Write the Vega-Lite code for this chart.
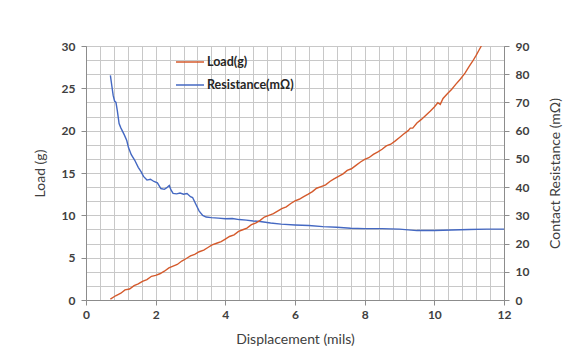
{
  "$schema": "https://vega.github.io/schema/vega-lite/v6.json",
  "width": 418,
  "height": 254,
  "autosize": {"type": "none"},
  "padding": {"left": 86, "top": 46, "right": 80, "bottom": 54},
  "background": "white",
  "config": {
    "view": {"stroke": "#595959", "strokeWidth": 1},
    "font": "Lato",
    "axis": {
      "labelFont": "Lato",
      "labelFontSize": 12,
      "labelFontWeight": "bold",
      "labelColor": "#404040",
      "titleFont": "Lato",
      "titleFontSize": 14,
      "titleFontWeight": "normal",
      "titleColor": "#404040",
      "domainColor": "#8c8c8c",
      "tickColor": "#8c8c8c",
      "gridColor": "#c8c8c8",
      "gridOpacity": 1,
      "gridWidth": 1,
      "tickSize": 5,
      "labelFlush": false,
      "labelOverlap": false
    }
  },
  "datasets": {
    "load": [
      {"d": 0.70, "v": 0.1, "s": "Load(g)"},
      {"d": 0.85, "v": 0.5, "s": "Load(g)"},
      {"d": 1.00, "v": 0.8, "s": "Load(g)"},
      {"d": 1.12, "v": 1.2, "s": "Load(g)"},
      {"d": 1.25, "v": 1.3, "s": "Load(g)"},
      {"d": 1.38, "v": 1.7, "s": "Load(g)"},
      {"d": 1.50, "v": 1.9, "s": "Load(g)"},
      {"d": 1.62, "v": 2.2, "s": "Load(g)"},
      {"d": 1.75, "v": 2.4, "s": "Load(g)"},
      {"d": 1.88, "v": 2.8, "s": "Load(g)"},
      {"d": 2.00, "v": 2.9, "s": "Load(g)"},
      {"d": 2.12, "v": 3.1, "s": "Load(g)"},
      {"d": 2.25, "v": 3.4, "s": "Load(g)"},
      {"d": 2.38, "v": 3.8, "s": "Load(g)"},
      {"d": 2.50, "v": 4.0, "s": "Load(g)"},
      {"d": 2.62, "v": 4.2, "s": "Load(g)"},
      {"d": 2.75, "v": 4.6, "s": "Load(g)"},
      {"d": 2.88, "v": 4.9, "s": "Load(g)"},
      {"d": 3.00, "v": 5.2, "s": "Load(g)"},
      {"d": 3.12, "v": 5.4, "s": "Load(g)"},
      {"d": 3.25, "v": 5.7, "s": "Load(g)"},
      {"d": 3.38, "v": 5.9, "s": "Load(g)"},
      {"d": 3.50, "v": 6.2, "s": "Load(g)"},
      {"d": 3.62, "v": 6.5, "s": "Load(g)"},
      {"d": 3.75, "v": 6.7, "s": "Load(g)"},
      {"d": 3.88, "v": 6.9, "s": "Load(g)"},
      {"d": 4.00, "v": 7.2, "s": "Load(g)"},
      {"d": 4.12, "v": 7.5, "s": "Load(g)"},
      {"d": 4.25, "v": 7.7, "s": "Load(g)"},
      {"d": 4.38, "v": 8.1, "s": "Load(g)"},
      {"d": 4.50, "v": 8.3, "s": "Load(g)"},
      {"d": 4.62, "v": 8.5, "s": "Load(g)"},
      {"d": 4.75, "v": 8.9, "s": "Load(g)"},
      {"d": 4.88, "v": 9.1, "s": "Load(g)"},
      {"d": 5.00, "v": 9.4, "s": "Load(g)"},
      {"d": 5.12, "v": 9.8, "s": "Load(g)"},
      {"d": 5.25, "v": 10.0, "s": "Load(g)"},
      {"d": 5.38, "v": 10.2, "s": "Load(g)"},
      {"d": 5.50, "v": 10.5, "s": "Load(g)"},
      {"d": 5.62, "v": 10.8, "s": "Load(g)"},
      {"d": 5.75, "v": 11.0, "s": "Load(g)"},
      {"d": 5.88, "v": 11.4, "s": "Load(g)"},
      {"d": 6.00, "v": 11.7, "s": "Load(g)"},
      {"d": 6.12, "v": 11.9, "s": "Load(g)"},
      {"d": 6.25, "v": 12.2, "s": "Load(g)"},
      {"d": 6.38, "v": 12.5, "s": "Load(g)"},
      {"d": 6.50, "v": 12.8, "s": "Load(g)"},
      {"d": 6.62, "v": 13.2, "s": "Load(g)"},
      {"d": 6.75, "v": 13.4, "s": "Load(g)"},
      {"d": 6.88, "v": 13.6, "s": "Load(g)"},
      {"d": 7.00, "v": 14.0, "s": "Load(g)"},
      {"d": 7.12, "v": 14.3, "s": "Load(g)"},
      {"d": 7.25, "v": 14.6, "s": "Load(g)"},
      {"d": 7.38, "v": 14.9, "s": "Load(g)"},
      {"d": 7.50, "v": 15.3, "s": "Load(g)"},
      {"d": 7.62, "v": 15.5, "s": "Load(g)"},
      {"d": 7.75, "v": 15.9, "s": "Load(g)"},
      {"d": 7.88, "v": 16.3, "s": "Load(g)"},
      {"d": 8.00, "v": 16.6, "s": "Load(g)"},
      {"d": 8.12, "v": 16.8, "s": "Load(g)"},
      {"d": 8.25, "v": 17.2, "s": "Load(g)"},
      {"d": 8.38, "v": 17.5, "s": "Load(g)"},
      {"d": 8.50, "v": 17.8, "s": "Load(g)"},
      {"d": 8.62, "v": 18.2, "s": "Load(g)"},
      {"d": 8.75, "v": 18.4, "s": "Load(g)"},
      {"d": 8.88, "v": 18.8, "s": "Load(g)"},
      {"d": 9.00, "v": 19.2, "s": "Load(g)"},
      {"d": 9.12, "v": 19.6, "s": "Load(g)"},
      {"d": 9.25, "v": 20.0, "s": "Load(g)"},
      {"d": 9.31, "v": 20.3, "s": "Load(g)"},
      {"d": 9.38, "v": 20.3, "s": "Load(g)"},
      {"d": 9.50, "v": 20.9, "s": "Load(g)"},
      {"d": 9.62, "v": 21.3, "s": "Load(g)"},
      {"d": 9.75, "v": 21.8, "s": "Load(g)"},
      {"d": 9.88, "v": 22.3, "s": "Load(g)"},
      {"d": 10.00, "v": 22.8, "s": "Load(g)"},
      {"d": 10.10, "v": 23.3, "s": "Load(g)"},
      {"d": 10.17, "v": 23.1, "s": "Load(g)"},
      {"d": 10.25, "v": 23.8, "s": "Load(g)"},
      {"d": 10.38, "v": 24.4, "s": "Load(g)"},
      {"d": 10.50, "v": 24.9, "s": "Load(g)"},
      {"d": 10.62, "v": 25.5, "s": "Load(g)"},
      {"d": 10.75, "v": 26.1, "s": "Load(g)"},
      {"d": 10.88, "v": 26.8, "s": "Load(g)"},
      {"d": 11.00, "v": 27.6, "s": "Load(g)"},
      {"d": 11.10, "v": 28.2, "s": "Load(g)"},
      {"d": 11.20, "v": 28.9, "s": "Load(g)"},
      {"d": 11.28, "v": 29.5, "s": "Load(g)"},
      {"d": 11.35, "v": 30.0, "s": "Load(g)"}
    ],
    "res": [
      {"d": 0.70, "v": 79.6, "s": "Resistance(mΩ)"},
      {"d": 0.74, "v": 76.0, "s": "Resistance(mΩ)"},
      {"d": 0.78, "v": 72.5, "s": "Resistance(mΩ)"},
      {"d": 0.82, "v": 70.5, "s": "Resistance(mΩ)"},
      {"d": 0.86, "v": 70.0, "s": "Resistance(mΩ)"},
      {"d": 0.90, "v": 67.0, "s": "Resistance(mΩ)"},
      {"d": 0.95, "v": 62.5, "s": "Resistance(mΩ)"},
      {"d": 1.00, "v": 61.0, "s": "Resistance(mΩ)"},
      {"d": 1.10, "v": 58.5, "s": "Resistance(mΩ)"},
      {"d": 1.17, "v": 56.5, "s": "Resistance(mΩ)"},
      {"d": 1.22, "v": 54.0, "s": "Resistance(mΩ)"},
      {"d": 1.30, "v": 51.5, "s": "Resistance(mΩ)"},
      {"d": 1.40, "v": 49.5, "s": "Resistance(mΩ)"},
      {"d": 1.50, "v": 47.0, "s": "Resistance(mΩ)"},
      {"d": 1.58, "v": 45.5, "s": "Resistance(mΩ)"},
      {"d": 1.65, "v": 43.8, "s": "Resistance(mΩ)"},
      {"d": 1.75, "v": 42.5, "s": "Resistance(mΩ)"},
      {"d": 1.85, "v": 42.8, "s": "Resistance(mΩ)"},
      {"d": 1.95, "v": 42.0, "s": "Resistance(mΩ)"},
      {"d": 2.05, "v": 41.5, "s": "Resistance(mΩ)"},
      {"d": 2.15, "v": 39.5, "s": "Resistance(mΩ)"},
      {"d": 2.25, "v": 39.2, "s": "Resistance(mΩ)"},
      {"d": 2.32, "v": 39.8, "s": "Resistance(mΩ)"},
      {"d": 2.39, "v": 40.6, "s": "Resistance(mΩ)"},
      {"d": 2.44, "v": 39.0, "s": "Resistance(mΩ)"},
      {"d": 2.50, "v": 37.8, "s": "Resistance(mΩ)"},
      {"d": 2.60, "v": 37.6, "s": "Resistance(mΩ)"},
      {"d": 2.70, "v": 37.9, "s": "Resistance(mΩ)"},
      {"d": 2.80, "v": 37.5, "s": "Resistance(mΩ)"},
      {"d": 2.90, "v": 37.7, "s": "Resistance(mΩ)"},
      {"d": 3.00, "v": 36.6, "s": "Resistance(mΩ)"},
      {"d": 3.06, "v": 36.3, "s": "Resistance(mΩ)"},
      {"d": 3.15, "v": 34.0, "s": "Resistance(mΩ)"},
      {"d": 3.25, "v": 31.5, "s": "Resistance(mΩ)"},
      {"d": 3.35, "v": 30.0, "s": "Resistance(mΩ)"},
      {"d": 3.45, "v": 29.4, "s": "Resistance(mΩ)"},
      {"d": 3.60, "v": 29.2, "s": "Resistance(mΩ)"},
      {"d": 3.80, "v": 29.0, "s": "Resistance(mΩ)"},
      {"d": 4.00, "v": 28.8, "s": "Resistance(mΩ)"},
      {"d": 4.20, "v": 28.9, "s": "Resistance(mΩ)"},
      {"d": 4.40, "v": 28.5, "s": "Resistance(mΩ)"},
      {"d": 4.60, "v": 28.3, "s": "Resistance(mΩ)"},
      {"d": 4.80, "v": 28.0, "s": "Resistance(mΩ)"},
      {"d": 5.00, "v": 27.8, "s": "Resistance(mΩ)"},
      {"d": 5.30, "v": 27.3, "s": "Resistance(mΩ)"},
      {"d": 5.60, "v": 26.9, "s": "Resistance(mΩ)"},
      {"d": 6.00, "v": 26.6, "s": "Resistance(mΩ)"},
      {"d": 6.40, "v": 26.4, "s": "Resistance(mΩ)"},
      {"d": 6.80, "v": 26.0, "s": "Resistance(mΩ)"},
      {"d": 7.20, "v": 25.8, "s": "Resistance(mΩ)"},
      {"d": 7.60, "v": 25.4, "s": "Resistance(mΩ)"},
      {"d": 8.00, "v": 25.3, "s": "Resistance(mΩ)"},
      {"d": 8.50, "v": 25.3, "s": "Resistance(mΩ)"},
      {"d": 9.00, "v": 25.1, "s": "Resistance(mΩ)"},
      {"d": 9.50, "v": 24.6, "s": "Resistance(mΩ)"},
      {"d": 10.00, "v": 24.6, "s": "Resistance(mΩ)"},
      {"d": 10.50, "v": 24.8, "s": "Resistance(mΩ)"},
      {"d": 11.00, "v": 25.0, "s": "Resistance(mΩ)"},
      {"d": 11.50, "v": 25.1, "s": "Resistance(mΩ)"},
      {"d": 12.00, "v": 25.1, "s": "Resistance(mΩ)"}
    ]
  },
  "layer": [
    {
      "data": {"name": "res"},
      "mark": {"type": "line", "strokeWidth": 1.4, "clip": true},
      "encoding": {
        "x": {
          "field": "d", "type": "quantitative",
          "scale": {"domain": [0, 12], "nice": false},
          "axis": {
            "title": "Displacement (mils)",
            "values": [0, 0.4, 0.8, 1.2, 1.6, 2, 2.4, 2.8, 3.2, 3.6, 4, 4.4, 4.8, 5.2, 5.6, 6, 6.4, 6.8, 7.2, 7.6, 8, 8.4, 8.8, 9.2, 9.6, 10, 10.4, 10.8, 11.2, 11.6, 12],
            "tickCount": 100,
            "format": ".0f",
            "labelExpr": "datum.value % 2 === 0 ? datum.label : ''",
            "tickOpacity": {"condition": {"test": "datum.value % 2 === 0", "value": 1}, "value": 0},
            "grid": true,
            "gridColor": "#c8c8c8",
            "labelOverlap": false,
            "labelPadding": 4,
            "titlePadding": 12
          }
        },
        "y": {
          "field": "v", "type": "quantitative",
          "scale": {"domain": [0, 90], "nice": false},
          "axis": {
            "orient": "right",
            "title": "Contact Resistance (mΩ)",
            "titleAngle": 270,
            "titleBaseline": "top",
            "values": [0, 5, 10, 15, 20, 25, 30, 35, 40, 45, 50, 55, 60, 65, 70, 75, 80, 85, 90],
            "tickCount": 100,
            "format": ".0f",
            "labelExpr": "datum.value % 10 === 0 ? datum.label : ''",
            "tickOpacity": {"condition": {"test": "datum.value % 10 === 0", "value": 1}, "value": 0},
            "grid": true,
            "gridColor": "#c8c8c8",
            "labelOverlap": false,
            "labelPadding": 6,
            "titlePadding": 20
          }
        },
        "color": {
          "field": "s", "type": "nominal",
          "scale": {"domain": ["Load(g)", "Resistance(mΩ)"], "range": ["#d45a2c", "#4468c2"]},
          "legend": {
            "orient": "none", "legendX": 89, "legendY": 1, "title": null,
            "symbolType": "stroke", "symbolSize": 784, "symbolStrokeWidth": 1.5,
            "labelFont": "Lato", "labelFontSize": 12.5, "labelFontWeight": "bold",
            "labelColor": "#262626", "labelOffset": 2, "rowPadding": 1, "padding": 0
          }
        }
      }
    },
    {
      "data": {"name": "load"},
      "mark": {"type": "line", "strokeWidth": 1.4, "clip": true},
      "encoding": {
        "x": {"field": "d", "type": "quantitative"},
        "y": {
          "field": "v", "type": "quantitative",
          "scale": {"domain": [0, 30], "nice": false},
          "axis": {
            "orient": "left",
            "title": "Load (g)",
            "values": [0, 5, 10, 15, 20, 25, 30],
            "format": ".0f",
            "grid": false,
            "labelPadding": 6,
            "titlePadding": 14
          }
        },
        "color": {"field": "s", "type": "nominal"}
      }
    }
  ],
  "resolve": {"scale": {"y": "independent"}}
}
